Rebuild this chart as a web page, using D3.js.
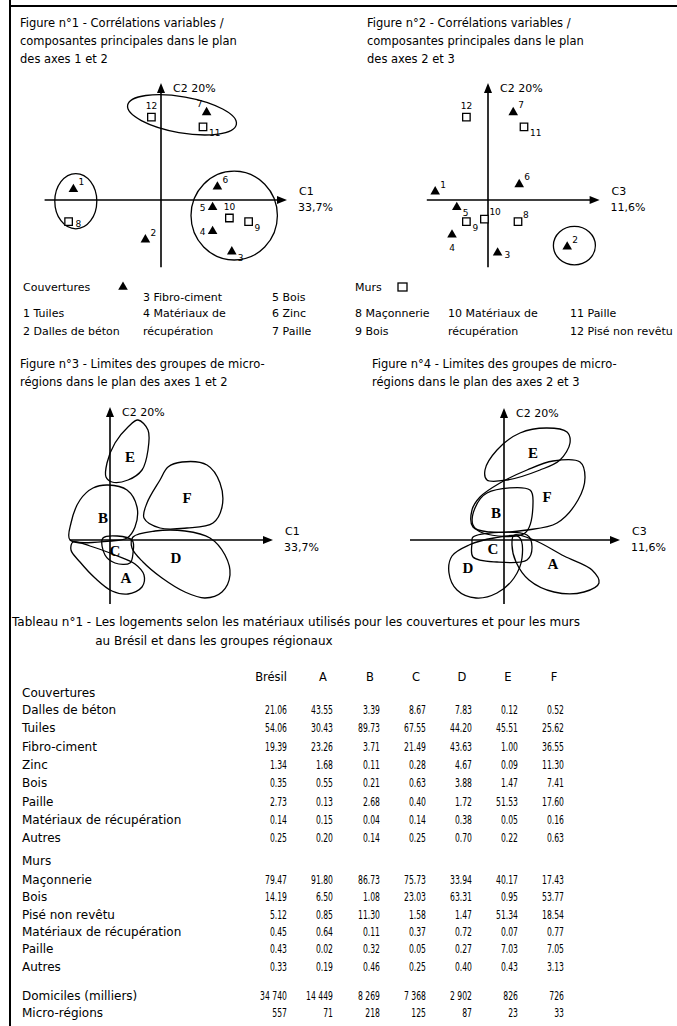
<!DOCTYPE html>
<html>
<head>
<meta charset="utf-8">
<script src="https://cdn.jsdelivr.net/npm/d3@7"></script>
<style>
  body { margin: 0; background: #fff; }
  svg { display: block; }
  text { font-family: "DejaVu Sans", "Liberation Sans", Arial, sans-serif; fill: #000; }
</style>
</head>
<body>
<svg id="chart" width="677" height="1026"></svg>
<script>
// --- figures 1 & 2 : variables (1-7 roofs, 8-12 walls)
const varIds = ["1", "2", "3", "4", "5", "6", "7", "8", "9", "10", "11", "12"];
const varKind = ["tri", "tri", "tri", "tri", "tri", "tri", "tri", "sq", "sq", "sq", "sq", "sq"];
const fig1C1 = [-0.73, -0.13, 0.59, 0.43, 0.43, 0.47, 0.38, -0.77, 0.73, 0.57, 0.35, -0.08];
const fig1C2 = [0.09, -0.33, -0.43, -0.26, -0.06, 0.11, 0.73, -0.18, -0.18, -0.15, 0.61, 0.69];
const fig1LabelPos = ["ne", "ne", "se", "w", "w", "ne", "nw", "e", "se", "n", "se", "n"];
const fig2C3 = [-0.44, 0.66, 0.08, -0.30, -0.26, 0.26, 0.21, 0.25, -0.18, -0.03, 0.30, -0.18];
const fig2C2 = [0.07, -0.39, -0.44, -0.29, -0.06, 0.13, 0.73, -0.18, -0.18, -0.16, 0.61, 0.69];
const fig2LabelPos = ["ne", "ne", "e", "s", "se", "ne", "ne", "ne", "se", "ne", "se", "n"];

// cluster ellipses (center, radii, tilt)
const fig1ClusterCx = [0.175, -0.71, 0.61];
const fig1ClusterCy = [0.71, -0.01, -0.13];
const fig1ClusterRx = [0.46, 0.175, 0.36];
const fig1ClusterRy = [0.15, 0.23, 0.37];
const fig1ClusterTilt = [10, 0, 0];
const fig2ClusterCx = [0.72];
const fig2ClusterCy = [-0.38];
const fig2ClusterRx = [0.175];
const fig2ClusterRy = [0.16];
const fig2ClusterTilt = [0];

// legends
const roofLegend = ["1 Tuiles", "2 Dalles de béton", "3 Fibro-ciment", "4 Matériaux de", "récupération", "5 Bois", "6 Zinc", "7 Paille"];
const wallLegend = ["8 Maçonnerie", "9 Bois", "10 Matériaux de", "récupération", "11 Paille", "12 Pisé non revêtu"];

// --- figures 3 & 4 : outlines of the groups of micro-regions
const groupIds = ["A", "B", "C", "D", "E", "F"];
const fig3Outlines = [
  [[-0.37, -0.02], [-0.20, -0.06], [0.05, -0.15], [0.25, -0.24], [0.34, -0.35], [0.32, -0.47], [0.18, -0.54], [0.02, -0.51], [-0.15, -0.38], [-0.30, -0.22], [-0.39, -0.10]],
  [[-0.02, 0.55], [0.17, 0.50], [0.27, 0.33], [0.25, 0.13], [0.17, 0.02], [0.00, -0.01], [-0.40, 0.00], [-0.39, 0.17], [-0.30, 0.40], [-0.17, 0.52]],
  [[-0.07, 0.02], [0.22, 0.00], [0.23, -0.13], [0.20, -0.23], [0.05, -0.23], [-0.05, -0.15]],
  [[0.23, 0.03], [0.45, 0.09], [0.75, 0.09], [1.00, 0.02], [1.15, -0.15], [1.20, -0.35], [1.12, -0.52], [0.95, -0.58], [0.75, -0.52], [0.52, -0.38], [0.33, -0.22], [0.22, -0.08]],
  [[0.28, 1.20], [0.18, 1.13], [0.05, 0.97], [-0.03, 0.77], [-0.04, 0.63], [0.02, 0.58], [0.18, 0.60], [0.32, 0.70], [0.38, 0.90], [0.38, 1.10]],
  [[0.72, 0.78], [0.97, 0.75], [1.10, 0.57], [1.12, 0.33], [1.03, 0.17], [0.77, 0.12], [0.50, 0.12], [0.34, 0.22], [0.37, 0.37], [0.50, 0.60], [0.58, 0.73]]
];
const fig3LabelX = [0.16, -0.07, 0.05, 0.66, 0.20, 0.77];
const fig3LabelY = [-0.38, 0.22, -0.11, -0.18, 0.83, 0.42];
const fig4Outlines = [
  [[0.10, 0.05], [0.30, 0.00], [0.60, -0.16], [0.88, -0.30], [0.95, -0.43], [0.80, -0.52], [0.50, -0.52], [0.25, -0.40], [0.12, -0.22], [0.08, -0.05]],
  [[-0.17, 0.47], [0.26, 0.50], [0.29, 0.37], [0.21, 0.07], [-0.21, 0.07], [-0.31, 0.15], [-0.29, 0.32]],
  [[-0.31, 0.03], [0.23, 0.05], [0.28, -0.07], [0.23, -0.20], [-0.07, -0.22], [-0.31, -0.17], [-0.32, -0.03]],
  [[0.15, 0.03], [-0.10, 0.02], [-0.35, -0.05], [-0.52, -0.16], [-0.55, -0.33], [-0.47, -0.50], [-0.28, -0.58], [-0.07, -0.53], [0.10, -0.38], [0.18, -0.18]],
  [[-0.17, 0.60], [-0.19, 0.70], [-0.07, 0.90], [0.16, 1.07], [0.43, 1.12], [0.63, 1.08], [0.66, 0.97], [0.56, 0.80], [0.36, 0.70], [0.03, 0.60]],
  [[0.76, 0.78], [0.81, 0.63], [0.74, 0.40], [0.53, 0.17], [0.23, 0.10], [-0.14, 0.08], [-0.31, 0.13], [-0.32, 0.30], [-0.24, 0.43], [-0.04, 0.57], [0.23, 0.70], [0.49, 0.79]]
];
const fig4LabelX = [0.49, -0.08, -0.11, -0.36, 0.29, 0.43];
const fig4LabelY = [-0.24, 0.27, -0.09, -0.28, 0.87, 0.43];

// --- table n°1
const tableCols = ["Brésil", "A", "B", "C", "D", "E", "F"];
const roofRows = ["Dalles de béton", "Tuiles", "Fibro-ciment", "Zinc", "Bois", "Paille", "Matériaux de récupération", "Autres"];
const roofValues = [
  ["21.06", "43.55", "3.39", "8.67", "7.83", "0.12", "0.52"],
  ["54.06", "30.43", "89.73", "67.55", "44.20", "45.51", "25.62"],
  ["19.39", "23.26", "3.71", "21.49", "43.63", "1.00", "36.55"],
  ["1.34", "1.68", "0.11", "0.28", "4.67", "0.09", "11.30"],
  ["0.35", "0.55", "0.21", "0.63", "3.88", "1.47", "7.41"],
  ["2.73", "0.13", "2.68", "0.40", "1.72", "51.53", "17.60"],
  ["0.14", "0.15", "0.04", "0.14", "0.38", "0.05", "0.16"],
  ["0.25", "0.20", "0.14", "0.25", "0.70", "0.22", "0.63"]
];
const wallRows = ["Maçonnerie", "Bois", "Pisé non revêtu", "Matériaux de récupération", "Paille", "Autres"];
const wallValues = [
  ["79.47", "91.80", "86.73", "75.73", "33.94", "40.17", "17.43"],
  ["14.19", "6.50", "1.08", "23.03", "63.31", "0.95", "53.77"],
  ["5.12", "0.85", "11.30", "1.58", "1.47", "51.34", "18.54"],
  ["0.45", "0.64", "0.11", "0.37", "0.72", "0.07", "0.77"],
  ["0.43", "0.02", "0.32", "0.05", "0.27", "7.03", "7.05"],
  ["0.33", "0.19", "0.46", "0.25", "0.40", "0.43", "3.13"]
];
const totalRows = ["Domiciles (milliers)", "Micro-régions"];
const totalValues = [
  ["34 740", "14 449", "8 269", "7 368", "2 902", "826", "726"],
  ["557", "71", "218", "125", "87", "23", "33"]
];

const svg = d3.select("#chart");
svg.append("rect").attr("width", 677).attr("height", 1026).attr("fill", "#fff");

// page frame (left and top rules)
svg.append("line").attr("x1", 10).attr("y1", 0).attr("x2", 10).attr("y2", 1026)
  .attr("stroke", "#000").attr("stroke-width", 2);
svg.append("line").attr("x1", 10).attr("y1", 6).attr("x2", 677).attr("y2", 6)
  .attr("stroke", "#000").attr("stroke-width", 2);

function addText(x, y, str, size, anchor, weight, family) {
  const t = svg.append("text")
    .attr("x", x).attr("y", y)
    .attr("font-size", size + "px")
    .attr("text-anchor", anchor || "start")
    .text(str);
  if (weight) t.attr("font-weight", weight);
  if (family) t.style("font-family", family);
  return t;
}

function addLines(x, y0, lines, size, step) {
  lines.forEach((l, i) => addText(x, y0 + i * step, l, size));
}

// axes with arrow heads, ext = [xmin, xmax, ymin, ymax] in data units
function drawAxes(x, y, ext, labels) {
  const g = svg.append("g");
  const x0 = x(0), y0 = y(0);
  const xe = x(ext[1]), yt = y(ext[3]);
  g.append("line").attr("x1", x(ext[0])).attr("y1", y0).attr("x2", xe - 4).attr("y2", y0)
    .attr("stroke", "#000").attr("stroke-width", 1.6);
  g.append("line").attr("x1", x0).attr("y1", y(ext[2])).attr("x2", x0).attr("y2", yt + 4)
    .attr("stroke", "#000").attr("stroke-width", 1.6);
  g.append("path").attr("d", `M${xe},${y0}L${xe - 10},${y0 - 4}L${xe - 10},${y0 + 4}Z`);
  g.append("path").attr("d", `M${x0},${yt}L${x0 - 4},${yt + 10}L${x0 + 4},${yt + 10}Z`);
  addText(x0 + 12, yt + 9, labels[0], 11);
  addText(xe + 12, y0 - 5, labels[1], 11);
  addText(xe + 11, y0 + 11, labels[2], 11);
}

const labelOffsets = {
  ne: [5, -4, "start"], se: [6, 9, "start"], e: [7, 5, "start"],
  w: [-7, 4, "end"], n: [0, -8, "middle"], nw: [-4, -5, "end"], s: [0, 16, "middle"]
};

function drawVariables(x, y, xs, ys, pos) {
  const tri = d3.symbol().type(d3.symbolTriangle).size(40);
  const sq = d3.symbol().type(d3.symbolSquare).size(56);
  varIds.forEach((id, i) => {
    const px = x(xs[i]), py = y(ys[i]);
    if (varKind[i] === "tri") {
      svg.append("path").attr("d", tri()).attr("transform", `translate(${px},${py})`).attr("fill", "#000");
    } else {
      svg.append("path").attr("d", sq()).attr("transform", `translate(${px},${py})`)
        .attr("fill", "#fff").attr("stroke", "#000").attr("stroke-width", 1.3);
    }
    const o = labelOffsets[pos[i]];
    addText(px + o[0], py + o[1], id, 9, o[2]);
  });
}

function drawClusters(x, y, cx, cy, rx, ry, tilt) {
  cx.forEach((c, i) => {
    svg.append("ellipse")
      .attr("cx", x(c)).attr("cy", y(cy[i]))
      .attr("rx", x(rx[i]) - x(0)).attr("ry", y(0) - y(ry[i]))
      .attr("transform", `rotate(${tilt[i]},${x(c)},${y(cy[i])})`)
      .attr("fill", "none").attr("stroke", "#000").attr("stroke-width", 1.3);
  });
}

function drawGroups(x, y, outlines, lx, ly) {
  const line = d3.line().x(d => x(d[0])).y(d => y(d[1])).curve(d3.curveCatmullRomClosed.alpha(0.5));
  outlines.forEach(o => {
    svg.append("path").attr("d", line(o)).attr("fill", "none").attr("stroke", "#000").attr("stroke-width", 1.3);
  });
  groupIds.forEach((id, i) => {
    addText(x(lx[i]), y(ly[i]) + 5, id, 15, "middle", "bold", '"Liberation Serif", "Times New Roman", serif');
  });
}

// ---------- Figure 1
addLines(20, 27, ["Figure n°1 - Corrélations variables /", "composantes principales dans le plan", "des axes 1 et 2"], 11.5, 18);
const x1 = d3.scaleLinear().domain([-1, 1]).range([161 - 120, 161 + 120]);
const y1 = d3.scaleLinear().domain([-1, 1]).range([200 + 120, 200 - 120]);
drawClusters(x1, y1, fig1ClusterCx, fig1ClusterCy, fig1ClusterRx, fig1ClusterRy, fig1ClusterTilt);
drawAxes(x1, y1, [-0.97, 1.05, -0.56, 0.975], ["C2 20%", "C1", "33,7%"]);
drawVariables(x1, y1, fig1C1, fig1C2, fig1LabelPos);

// legend 1
addText(23, 291, "Couvertures", 11);
svg.append("path").attr("d", d3.symbol().type(d3.symbolTriangle).size(40)()).attr("transform", "translate(123,287)");
addText(23, 317, roofLegend[0], 11);
addText(23, 335, roofLegend[1], 11);
addText(143, 301, roofLegend[2], 11);
addText(143, 317, roofLegend[3], 11);
addText(143, 335, roofLegend[4], 11);
addText(272, 301, roofLegend[5], 11);
addText(272, 317, roofLegend[6], 11);
addText(272, 335, roofLegend[7], 11);

// ---------- Figure 2
addLines(367, 27, ["Figure n°2 - Corrélations variables /", "composantes principales dans le plan", "des axes 2 et 3"], 11.5, 18);
const x2 = d3.scaleLinear().domain([-1, 1]).range([488 - 120, 488 + 120]);
const y2 = d3.scaleLinear().domain([-1, 1]).range([200 + 120, 200 - 120]);
drawClusters(x2, y2, fig2ClusterCx, fig2ClusterCy, fig2ClusterRx, fig2ClusterRy, fig2ClusterTilt);
drawAxes(x2, y2, [-0.51, 0.93, -0.56, 0.975], ["C2 20%", "C3", "11,6%"]);
drawVariables(x2, y2, fig2C3, fig2C2, fig2LabelPos);

// legend 2
addText(355, 291, "Murs", 11);
svg.append("rect").attr("x", 398).attr("y", 283).attr("width", 9).attr("height", 8)
  .attr("fill", "#fff").attr("stroke", "#000").attr("stroke-width", 1.3);
addText(355, 317, wallLegend[0], 11);
addText(355, 335, wallLegend[1], 11);
addText(448, 317, wallLegend[2], 11);
addText(448, 335, wallLegend[3], 11);
addText(570, 317, wallLegend[4], 11);
addText(570, 335, wallLegend[5], 11);

// ---------- Figure 3
addLines(20, 368, ["Figure n°3 - Limites des groupes de micro-", "régions dans le plan des axes 1 et 2"], 11.5, 18);
const x3 = d3.scaleLinear().domain([-1, 1]).range([110 - 100, 110 + 100]);
const y3 = d3.scaleLinear().domain([-1, 1]).range([540 + 100, 540 - 100]);
drawAxes(x3, y3, [-0.40, 1.63, -0.64, 1.33], ["C2 20%", "C1", "33,7%"]);
drawGroups(x3, y3, fig3Outlines, fig3LabelX, fig3LabelY);

// ---------- Figure 4
addLines(372, 368, ["Figure n°4 - Limites des groupes de micro-", "régions dans le plan des axes 2 et 3"], 11.5, 18);
const x4 = d3.scaleLinear().domain([-1, 1]).range([504 - 100, 504 + 100]);
const y4 = d3.scaleLinear().domain([-1, 1]).range([540 + 100, 540 - 100]);
drawAxes(x4, y4, [-0.94, 1.16, -0.64, 1.32], ["C2 20%", "C3", "11,6%"]);
drawGroups(x4, y4, fig4Outlines, fig4LabelX, fig4LabelY);

// ---------- Table n°1
const tHead = addText(12, 626, "Tableau n°1 - ", 12);
const tIndent = 12 + tHead.node().getComputedTextLength() + 4;
addText(tIndent, 626, "Les logements selon les matériaux utilisés pour les couvertures et pour les murs", 12);
addText(tIndent, 645, "au Brésil et dans les groupes régionaux", 12);

const colRight = [287, 333, 380, 426, 472, 518, 564];
tableCols.forEach((c, j) => addText(colRight[j] - (j === 0 ? 0 : 10), 681, c, 11.5, j === 0 ? "end" : "middle"));

// condensed figures like the printed table
function addNumber(x, y, str) {
  const t = addText(x, y, str, 12, "end");
  const w = t.node().getComputedTextLength();
  t.attr("textLength", w * 0.64).attr("lengthAdjust", "spacingAndGlyphs");
}

function drawRows(names, values, yStart, step) {
  names.forEach((n, i) => {
    const yy = yStart + i * step;
    addText(22, yy, n, 12);
    values[i].forEach((v, j) => addNumber(colRight[j], yy, v));
  });
}
addText(22, 697, "Couvertures", 12);
drawRows(roofRows, roofValues, 714, 18.3);
addText(22, 865, "Murs", 12);
drawRows(wallRows, wallValues, 884, 17.3);
drawRows(totalRows, totalValues, 1000, 17);
</script>
</body>
</html>
